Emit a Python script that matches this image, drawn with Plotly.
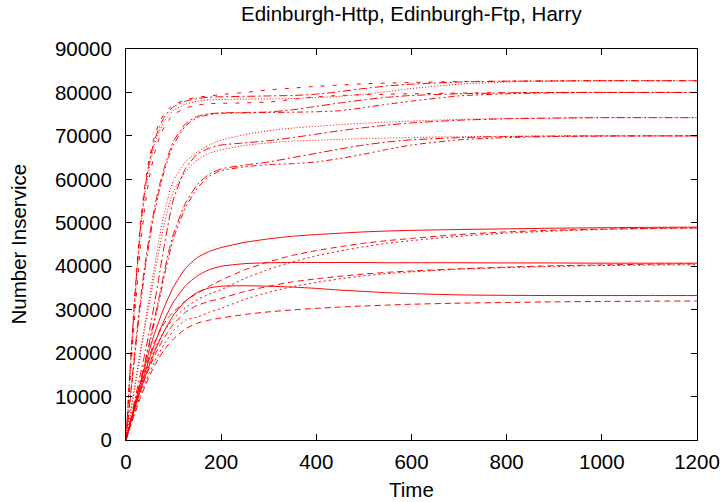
import plotly.graph_objects as go

# Sample times (shared by every run)
T = [0, 10, 20, 30, 40, 50, 60, 70, 80, 90, 100, 125, 150, 175, 200, 250, 300,
     350, 400, 450, 500, 550, 600, 700, 800, 900, 1000, 1100, 1200]

# Harry runs: solid
harry_solid_1 = [0, 4500, 9000, 13000, 17000, 21000, 24500, 27600, 30500, 33000, 35300, 39500, 42000, 43400, 44300,
                 45500, 46300, 46900, 47300, 47600, 47900, 48100, 48250, 48450, 48600, 48750, 48850, 48950, 49000]
harry_solid_2 = [0, 4200, 8300, 12000, 15500, 19000, 22000, 25000, 27500, 29800, 31800, 35500, 37800, 39200, 40000,
                 40600, 40800, 40850, 40850, 40850, 40850, 40800, 40800, 40800, 40750, 40750, 40700, 40700, 40700]
harry_solid_3 = [0, 4000, 7800, 11300, 14500, 17500, 20300, 22800, 25000, 27000, 28800, 32000, 34000, 35000, 35400,
                 35500, 35400, 35200, 34900, 34500, 34200, 33900, 33700, 33400, 33300, 33250, 33250, 33250, 33250]
# Harry runs: dashed
harry_dash_1 = [0, 4300, 8500, 12500, 16200, 19600, 22500, 24800, 26800, 28300, 29500, 32000, 33800, 35400, 36800,
                39200, 41000, 42500, 43600, 44500, 45300, 45900, 46400, 47300, 47900, 48300, 48550, 48700, 48800]
harry_dash_2 = [0, 3900, 7600, 11000, 14100, 16900, 19400, 21600, 23500, 25200, 26700, 29400, 31000, 31900, 32600,
                34200, 35400, 36400, 37100, 37700, 38200, 38600, 38900, 39400, 39800, 40100, 40300, 40450, 40550]
harry_dash_3 = [0, 3400, 6600, 9600, 12400, 14900, 17100, 19000, 20700, 22100, 23300, 25600, 26900, 27600, 28100,
                28900, 29500, 29950, 30300, 30600, 30850, 31050, 31250, 31500, 31650, 31800, 31900, 31950, 32000]
# Harry runs: dotted
harry_dot_1 = [0, 4000, 7900, 11600, 15000, 18100, 20800, 23100, 25000, 26600, 27900, 30500, 32300, 33600, 34600,
               37200, 39300, 41000, 42400, 43500, 44500, 45300, 45900, 46900, 47600, 48100, 48450, 48650, 48750]
harry_dot_2 = [0, 3600, 7000, 10200, 13100, 15700, 18000, 20100, 22000, 23700, 25200, 27600, 28300, 29400, 30300,
               32400, 34000, 35300, 36300, 37100, 37800, 38300, 38700, 39300, 39700, 39950, 40150, 40250, 40350]

# Edinburgh runs, top level
edin_a1 = [0, 19000, 36000, 49500, 59000, 65500, 70000, 73000, 75000, 76300, 77200, 78300, 78900, 79200, 79500,
           80000, 80600, 81000, 81400, 81700, 82000, 82150, 82300, 82500, 82600, 82650, 82700, 82700, 82700]
edin_a2 = [0, 18500, 35000, 48500, 58000, 64500, 69000, 72000, 74200, 75700, 76700, 78000, 78600, 78900, 79000,
           79100, 79200, 79300, 79600, 80200, 80900, 81500, 81900, 82400, 82600, 82650, 82700, 82700, 82700]
edin_a3 = [0, 18000, 34000, 47500, 57000, 63500, 68000, 71000, 73300, 74800, 75900, 77300, 78000, 78300, 78400,
           78450, 78500, 78600, 78800, 79100, 79600, 80200, 80900, 81900, 82400, 82600, 82700, 82700, 82700]
# Edinburgh runs, second level
edin_b1 = [0, 11000, 22000, 32000, 40500, 47500, 53500, 58500, 62500, 66000, 68800, 72800, 74500, 75100, 75300,
           75400, 75500, 76000, 76800, 77600, 78300, 78900, 79300, 79700, 79900, 80000, 80000, 80000, 80000]
edin_b2 = [0, 10500, 21000, 30800, 39200, 46300, 52400, 57500, 61700, 65200, 68000, 72300, 74200, 74900, 75200,
           75300, 75400, 75450, 75550, 75800, 76500, 77300, 78000, 79200, 79700, 79900, 80000, 80000, 80000]
edin_b3 = [0, 16000, 31000, 44000, 54000, 61000, 66000, 69500, 72000, 73700, 74900, 76400, 77100, 77400, 77500,
           77600, 77800, 78400, 79000, 79300, 79500, 79600, 79700, 79850, 79950, 80000, 80000, 80000, 80000]
# Edinburgh runs, third level
edin_c1 = [0, 6800, 13600, 20400, 27000, 33500, 40000, 46500, 52000, 56500, 59800, 64000, 66300, 67900, 69000,
           70300, 71200, 71800, 72200, 72600, 72900, 73200, 73400, 73800, 74000, 74100, 74200, 74200, 74200]
edin_c2 = [0, 5000, 10000, 15000, 20000, 25500, 31500, 38000, 44500, 50500, 55500, 62500, 65800, 67200, 67900,
           68400, 68900, 69600, 70400, 71200, 71900, 72500, 73000, 73600, 73950, 74100, 74200, 74200, 74200]
# Edinburgh runs, bottom level
edin_d1 = [0, 6500, 13000, 19500, 26000, 32000, 38000, 44000, 49500, 54000, 57300, 61800, 64500, 66000, 66800,
           67800, 68400, 68800, 69000, 69200, 69400, 69500, 69650, 69800, 69900, 70000, 70000, 70000, 70000]
edin_d2 = [0, 4500, 9000, 13500, 18000, 23000, 28000, 33000, 38500, 43500, 47500, 54500, 58800, 61200, 62400,
           63300, 64000, 65000, 66000, 67000, 67900, 68600, 69100, 69600, 69850, 69950, 70000, 70000, 70000]
edin_d3 = [0, 4300, 8600, 13000, 17500, 22300, 27300, 32300, 37500, 42300, 46500, 53500, 58000, 60700, 62000,
           62900, 63400, 63600, 64000, 64800, 65800, 66900, 67900, 69100, 69600, 69850, 69950, 70000, 70000]

X_TICKS = [0, 200, 400, 600, 800, 1000, 1200]
Y_TICKS = [0, 10000, 20000, 30000, 40000, 50000, 60000, 70000, 80000, 90000]

SOLID = "solid"
DASHED = "6px,4px"
DOTTED = "1px,2px"
DASHDOT = "8px,3px,2px,3px"
SPARSE = "4px,8px"
DASHDOTDOT = "6px,3px,2px,3px,2px,3px"

runs = [
    (harry_solid_1, SOLID), (harry_solid_2, SOLID), (harry_solid_3, SOLID),
    (harry_dash_1, DASHED), (harry_dash_2, DASHED), (harry_dash_3, DASHED),
    (harry_dot_1, "2px,3px"), (harry_dot_2, "2px,3px"),
    (edin_a1, SPARSE), (edin_a2, DASHDOT), (edin_a3, DOTTED),
    (edin_b1, DASHDOT), (edin_b2, DASHDOTDOT), (edin_b3, SPARSE),
    (edin_c1, DOTTED), (edin_c2, DASHDOT),
    (edin_d1, DOTTED), (edin_d2, DASHDOT), (edin_d3, DASHDOTDOT),
]

fig = go.Figure()
for values, dash in runs:
    fig.add_trace(go.Scatter(
        x=T, y=values, mode="lines", showlegend=False, hoverinfo="skip",
        line=dict(color="#ff0000", width=1, dash=dash, shape="spline", smoothing=0.5),
    ))

FONT = "Liberation Sans, Arial, Helvetica, sans-serif"
FS = 20.5
axis_common = dict(
    showline=True, linecolor="black", linewidth=1, mirror="allticks",
    ticks="inside", ticklen=6, tickcolor="black", tickwidth=1,
    showgrid=False, zeroline=False, automargin=False,
    tickfont=dict(family=FONT, size=FS, color="black"),
)

fig.update_layout(
    width=724, height=502,
    margin=dict(l=126, r=27, t=49, b=62, autoexpand=False),
    paper_bgcolor="white", plot_bgcolor="white",
    xaxis=dict(range=[0, 1200], tickvals=X_TICKS, ticklabelstandoff=3, **axis_common),
    yaxis=dict(range=[0, 90000], tickvals=Y_TICKS, tickformat="d", ticklabelstandoff=9, **axis_common),
    annotations=[
        dict(text="Edinburgh-Http, Edinburgh-Ftp, Harry", xref="paper", yref="paper",
             x=0.5, y=1 + 35 / 391, xanchor="center", yanchor="middle", showarrow=False,
             font=dict(family=FONT, size=FS, color="black")),
        dict(text="Time", xref="paper", yref="paper", x=0.5, y=-49 / 391,
             xanchor="center", yanchor="middle", showarrow=False,
             font=dict(family=FONT, size=FS, color="black")),
        dict(text="Number Inservice", xref="paper", yref="paper", x=(18 - 126) / 571, y=0.5,
             xanchor="center", yanchor="middle", textangle=-90, showarrow=False,
             font=dict(family=FONT, size=FS, color="black")),
    ],
)

fig.write_html("out.html")
